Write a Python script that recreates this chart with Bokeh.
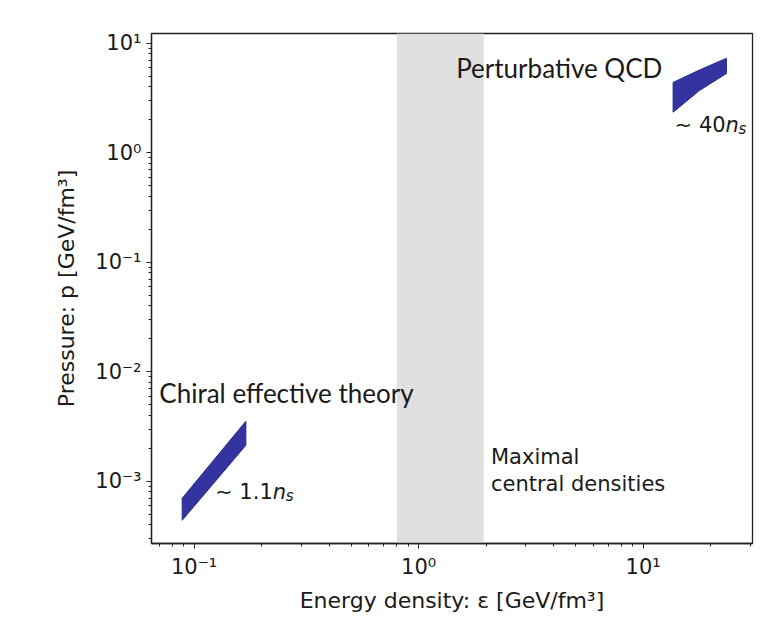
import numpy as np
from bokeh.plotting import figure
from bokeh.models import Range1d, FixedTicker, BoxAnnotation
from bokeh.core.properties import value
from bokeh.embed import file_html
from bokeh.resources import INLINE

# ---- data ----
x_ticks = [0.1, 1.0, 10.0]
x_tick_labels = ["10⁻¹", "10⁰", "10¹"]
y_ticks = [0.001, 0.01, 0.1, 1.0, 10.0]
y_tick_labels = ["10⁻³", "10⁻²", "10⁻¹", "10⁰", "10¹"]

chiral_eps = [0.0885, 0.170]
chiral_p_low = [4.4e-4, 2.13e-3]
chiral_p_high = [7.0e-4, 3.53e-3]

qcd_eps = [13.6, 17.8, 23.5]
qcd_p_low = [2.35, 3.7, 5.3]
qcd_p_high = [4.4, 5.7, 7.3]

max_central_eps = [0.80, 1.95]

x_label = "Energy density: ε [GeV/fm³]"
y_label = "Pressure: p [GeV/fm³]"

BLUE_FILL = "#3434a0"
BLUE_LINE = "#2a2a8c"
TXT = "#1a1a1a"
SHIFT = -8  # baseline correction in px

p = figure(width=775, height=625, x_axis_type="log", y_axis_type="log",
           x_range=Range1d(0.0646, 30.7), y_range=Range1d(2.7e-4, 12.3),
           output_backend="svg", toolbar_location=None,
           min_border_left=151, min_border_right=23, min_border_top=33, min_border_bottom=82)

p.background_fill_color = "white"
p.border_fill_color = "white"
p.outline_line_color = "#222222"
p.outline_line_width = 1.3
p.grid.visible = False

def minors(lo_dec, hi_dec):
    out = []
    for d in range(lo_dec, hi_dec + 1):
        for k in range(2, 10):
            out.append(k * 10.0 ** d)
    return out

p.xaxis.ticker = FixedTicker(ticks=x_ticks, minor_ticks=minors(-2, 1))
p.yaxis.ticker = FixedTicker(ticks=y_ticks, minor_ticks=minors(-4, 1))
p.xaxis.major_label_overrides = {v: l for v, l in zip(x_ticks, x_tick_labels)}
p.yaxis.major_label_overrides = {v: l for v, l in zip(y_ticks, y_tick_labels)}

for ax in (p.xaxis, p.yaxis):
    ax.axis_line_color = "#222222"
    ax.axis_line_width = 1.3
    ax.major_tick_line_color = "#222222"
    ax.minor_tick_line_color = "#222222"
    ax.major_tick_out = 5
    ax.major_tick_in = 0
    ax.minor_tick_out = 3
    ax.minor_tick_in = 0
    ax.major_label_text_font = "DejaVu Sans"
    ax.major_label_text_font_size = "21px"
    ax.major_label_text_color = TXT
    ax.axis_label_text_font = "DejaVu Sans"
    ax.axis_label_text_font_size = "22px"
    ax.axis_label_text_font_style = "normal"
    ax.axis_label_text_color = TXT

p.xaxis.axis_label = x_label
p.yaxis.axis_label = y_label
p.xaxis.major_label_standoff = 6
p.yaxis.major_label_standoff = 5
p.xaxis.axis_label_standoff = 6
p.yaxis.axis_label_standoff = 13

# maximal central densities band
p.add_layout(BoxAnnotation(left=max_central_eps[0], right=max_central_eps[1],
                           fill_color="#e0e0e0", fill_alpha=1.0, line_color=None,
                           level="underlay"))

# chiral EFT band
p.patch(chiral_eps + chiral_eps[::-1], chiral_p_low + chiral_p_high[::-1],
        fill_color=BLUE_FILL, line_color=BLUE_LINE, line_width=1)
# pQCD band
p.patch(qcd_eps + qcd_eps[::-1], qcd_p_low + qcd_p_high[::-1],
        fill_color=BLUE_FILL, line_color=BLUE_LINE, line_width=1)

# annotations
p.text(x=[1.47], y=[5.0], text=["Perturbative QCD"], text_font=value("Lato"),
       text_font_size="26px", text_color=TXT, text_baseline="alphabetic", y_offset=SHIFT)
p.text(x=[0.070], y=[5.4e-3], text=["Chiral effective theory"], text_font=value("Lato"),
       text_font_size="26px", text_color=TXT, text_baseline="alphabetic", y_offset=SHIFT)
p.text(x=[2.10, 2.10], y=[1.40e-3, 7.9e-4], text=["Maximal", "central densities"],
       text_font=value("DejaVu Sans"), text_font_size="21px", text_color=TXT,
       text_baseline="alphabetic", y_offset=SHIFT)

def ns_label(x, y, prefix):
    p.text(x=[x], y=[y], text=[prefix], text_align="right", text_font=value("DejaVu Sans"),
           text_font_size="21px", text_color=TXT, text_baseline="alphabetic", y_offset=SHIFT)
    p.text(x=[x], y=[y], text=["n"], text_align="left", text_font=value("DejaVu Sans"),
           text_font_style="italic", text_font_size="21px", text_color=TXT,
           text_baseline="alphabetic", y_offset=SHIFT)
    p.text(x=[x], y=[y], text=["s"], text_align="left", x_offset=13, y_offset=SHIFT + 4,
           text_font=value("DejaVu Sans"), text_font_style="italic",
           text_font_size="15px", text_color=TXT, text_baseline="alphabetic")

ns_label(23.3, 1.51, "∼ 40")
ns_label(0.224, 6.7e-4, "∼ 1.1")

open("out.html", "w").write(file_html(p, INLINE))
